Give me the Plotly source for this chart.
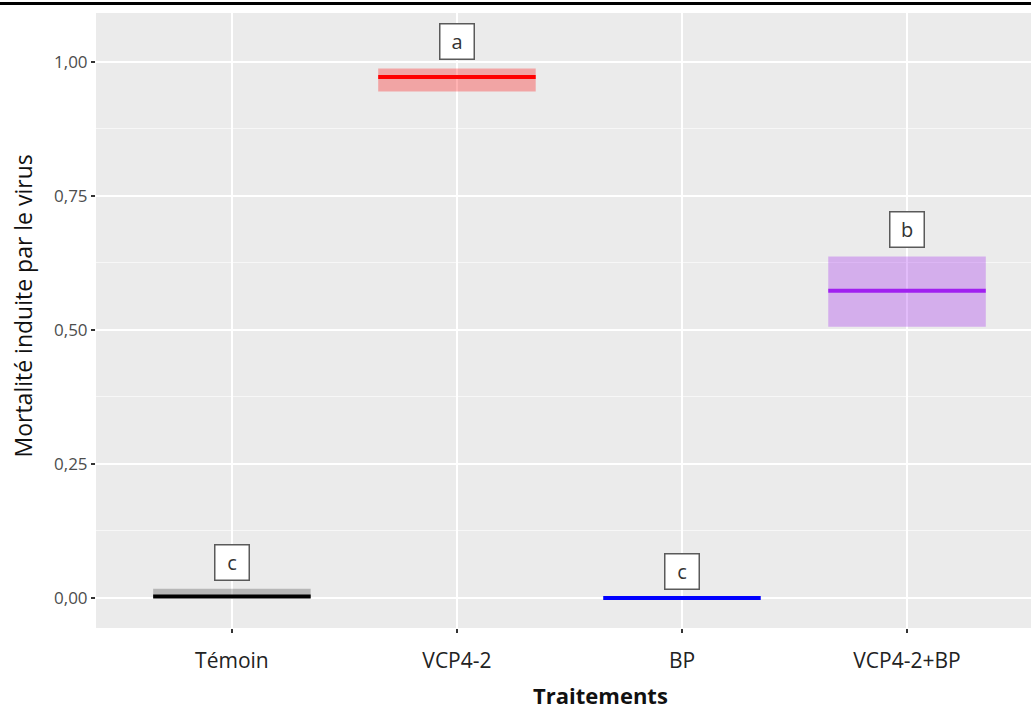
import plotly.graph_objects as go

categories = ["Témoin", "VCP4-2", "BP", "VCP4-2+BP"]
means = [0.003, 0.972, 0.0, 0.573]
ymins = [0.0, 0.945, 0.0, 0.506]
ymaxs = [0.017, 0.988, 0.0, 0.637]
letters = ["c", "a", "c", "b"]
line_colors = ["#000000", "#FF0000", "#0000FF", "#A020F0"]
fill_colors = ["rgba(0,0,0,0.22)", "rgba(255,0,0,0.3)", "rgba(0,0,255,0.3)", "rgba(160,32,240,0.3)"]
y_ticks = [0, 0.25, 0.5, 0.75, 1.0]

HALF = 0.35
LABEL_OFFSET = 0.05
FONT = "Open Sans, sans-serif"

fig = go.Figure()
idx = list(range(len(categories)))

fig.add_trace(go.Bar(
    x=idx,
    y=[hi - lo for hi, lo in zip(ymaxs, ymins)],
    base=ymins,
    width=2 * HALF,
    marker=dict(color=fill_colors, line=dict(width=0)),
    hoverinfo="skip",
    showlegend=False,
))

for i, (m, c) in enumerate(zip(means, line_colors)):
    fig.add_trace(go.Scatter(
        x=[i - HALF, i + HALF], y=[m, m], mode="lines",
        line=dict(color=c, width=4), showlegend=False, hoverinfo="skip",
    ))

for i, (hi, lab) in enumerate(zip(ymaxs, letters)):
    fig.add_annotation(
        x=i, y=hi + LABEL_OFFSET, text=lab, showarrow=False,
        font=dict(family=FONT, size=20, color="#333333"),
        bgcolor="white", bordercolor="#5a5a5a", borderwidth=1.5,
        borderpad=3, width=27, height=28,
    )

# axis titles placed as annotations
fig.add_annotation(
    xref="paper", yref="paper", x=0, y=0.5, xshift=-74, yshift=14,
    text="Mortalité induite par le virus", textangle=-90, showarrow=False,
    xanchor="center", yanchor="middle",
    font=dict(family=FONT, size=23, color="#111111"),
)
fig.add_annotation(
    xref="paper", yref="paper", x=0.540, y=0, yshift=-67,
    text="<b>Traitements</b>", showarrow=False,
    xanchor="center", yanchor="middle",
    font=dict(family=FONT, size=22, color="#111111"),
)

# top border line of the image
fig.add_shape(type="line", xref="paper", yref="paper",
              x0=-0.2, x1=1.05, y0=1.0155, y1=1.0155,
              line=dict(color="black", width=3))

fig.update_layout(
    width=1031, height=712,
    margin=dict(l=96, r=0, t=13, b=84),
    paper_bgcolor="white",
    plot_bgcolor="#EBEBEB",
    separators=", ",
    font=dict(family=FONT),
    xaxis=dict(
        range=[-0.604, 3.551],
        tickmode="array", tickvals=idx, ticktext=categories,
        showgrid=True, gridcolor="white", gridwidth=2,
        zeroline=False,
        ticks="outside", ticklen=4, tickwidth=1.5, tickcolor="#333333",
        ticklabelstandoff=10,
        tickfont=dict(size=21, color="#222222"),
    ),
    yaxis=dict(
        range=[-0.056, 1.0914],
        tickmode="array", tickvals=y_ticks, tickformat=".2f",
        showgrid=True, gridcolor="white", gridwidth=2,
        minor=dict(dtick=0.125, tick0=0, showgrid=True, gridcolor="#F7F7F7", gridwidth=1, ticks=""),
        zeroline=False,
        ticks="outside", ticklen=4, tickwidth=1.5, tickcolor="#333333",
        tickfont=dict(size=17, color="#4D4D4D"),
    ),
)

fig.write_html(
    "out.html",
    config={"displayModeBar": False},
    post_script="document.body.style.margin='0';document.body.style.overflow='hidden';",
)
